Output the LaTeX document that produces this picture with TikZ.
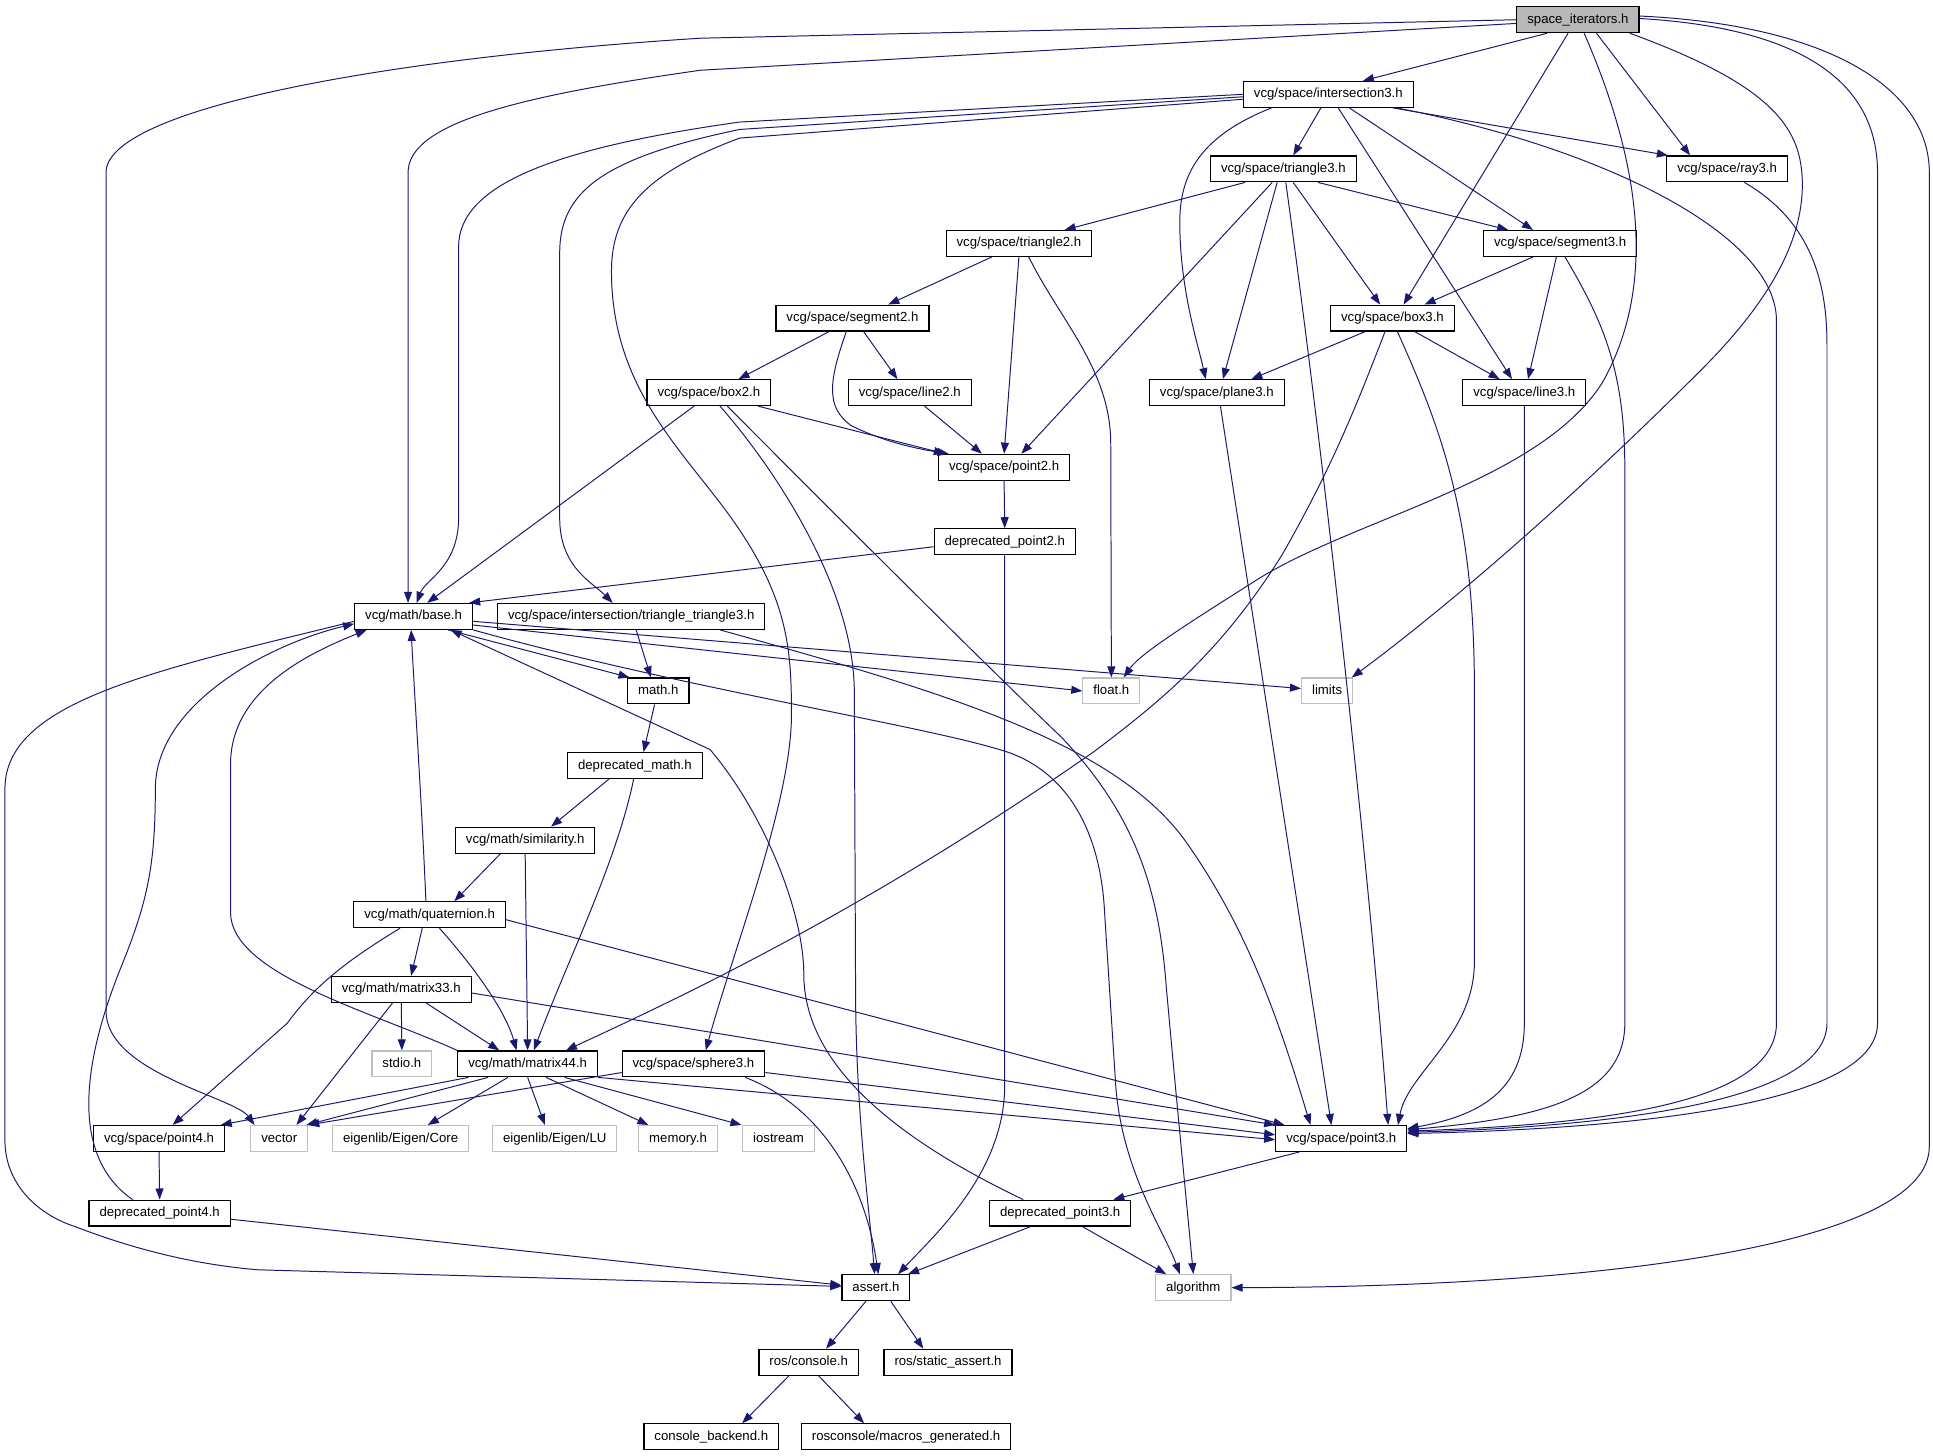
\documentclass[tikz,border=0pt]{standalone}
\usepackage{fontspec}
\setmainfont{Liberation Sans}
\usetikzlibrary{arrows.meta}
\definecolor{edgeblue}{HTML}{191970}

\begin{document}
\begin{tikzpicture}[x=1pt,y=-1pt,
  file/.style={draw=black, line width=0.9pt, fill=white, minimum height=21pt,
    inner xsep=8.5pt, inner ysep=0pt, text height=8pt, text depth=2.3pt,
    font=\fontsize{10.7}{12}\selectfont},
  sysfile/.style={file, draw=black!25},
  mainfile/.style={file, fill=black!28},
  dep/.style={draw=edgeblue, line width=0.8pt, -{Triangle[length=9pt,width=6.5pt]}}]
\def\ya{16}
\def\yb{76.5}
\def\yc{137}
\def\yd{197.5}
\def\ye{258}
\def\yf{318.5}
\def\yg{379}
\def\yh{439.5}
\def\yi{500}
\def\yj{560.5}
\def\yk{621}
\def\yl{681.5}
\def\ym{742}
\def\yn{802.5}
\def\yo{863}
\def\yp{923.5}
\def\yq{984}
\def\yr{1044.5}
\def\ys{1105}
\def\yt{1165.5}

\useasboundingbox (0,0) rectangle (1568,1181);

\node[mainfile] (si) at (1280,\ya) {space\_iterators.h};
\node[file] (isect) at (1077.5,\yb) {vcg/space/intersection3.h};
\node[file] (tri3) at (1041,\yc) {vcg/space/triangle3.h};
\node[file] (ray) at (1401,\yc) {vcg/space/ray3.h};
\node[file] (tri2) at (826.5,\yd) {vcg/space/triangle2.h};
\node[file] (seg3) at (1265.5,\yd) {vcg/space/segment3.h};
\node[file] (seg2) at (691.5,\ye) {vcg/space/segment2.h};
\node[file] (box3) at (1129.5,\ye) {vcg/space/box3.h};
\node[file] (box2) at (575,\yf) {vcg/space/box2.h};
\node[file] (line2) at (738,\yf) {vcg/space/line2.h};
\node[file] (plane) at (987,\yf) {vcg/space/plane3.h};
\node[file] (line3) at (1236.5,\yf) {vcg/space/line3.h};
\node[file] (pt2) at (814.5,\yg) {vcg/space/point2.h};
\node[file] (dpt2) at (815,\yh) {deprecated\_point2.h};
\node[file] (base) at (335.5,\yi) {vcg/math/base.h};
\node[file] (tritri) at (512,\yi) {vcg/space/intersection/triangle\_triangle3.h};
\node[file] (math) at (534,\yj) {math.h};
\node[sysfile] (float) at (901.5,\yj) {float.h};
\node[sysfile] (limits) at (1076.5,\yj) {limits};
\node[file] (dmath) at (515,\yk) {deprecated\_math.h};
\node[file] (sim) at (426,\yl) {vcg/math/similarity.h};
\node[file] (quat) at (348.5,\ym) {vcg/math/quaternion.h};
\node[file] (m33) at (325.5,\yn) {vcg/math/matrix33.h};
\node[sysfile] (stdio) at (326,\yo) {stdio.h};
\node[file] (m44) at (428,\yo) {vcg/math/matrix44.h};
\node[file] (sphere) at (562.5,\yo) {vcg/space/sphere3.h};
\node[file] (pt4) at (129,\yp) {vcg/space/point4.h};
\node[sysfile] (vec) at (226.5,\yp) {vector};
\node[sysfile] (core) at (325,\yp) {eigenlib/Eigen/Core};
\node[sysfile] (lu) at (450,\yp) {eigenlib/Eigen/LU};
\node[sysfile] (mem) at (550,\yp) {memory.h};
\node[sysfile] (ios) at (631.5,\yp) {iostream};
\node[file] (pt3) at (1088,\yp) {vcg/space/point3.h};
\node[file] (dpt4) at (129.5,\yq) {deprecated\_point4.h};
\node[file] (dpt3) at (860,\yq) {deprecated\_point3.h};
\node[file] (assert) at (710.5,\yr) {assert.h};
\node[sysfile] (alg) at (968,\yr) {algorithm};
\node[file] (rcons) at (656,\ys) {ros/console.h};
\node[file] (rsa) at (769,\ys) {ros/static\_assert.h};
\node[file] (cback) at (577,\yt) {console\_backend.h};
\node[file] (macros) at (735,\yt) {rosconsole/macros\_generated.h};

% space_iterators.h
\draw[dep] (si.west) -- (568,31) .. controls (300,48) and (86,90) .. (86,140) -- (86,820) .. controls (86,870) and (190,890) .. ([xshift=-20pt]vec.north);
\draw[dep] ([yshift=-3pt]si.west) -- (568,57) .. controls (420,78) and (331,100) .. (331,140) -- ([xshift=-4.5pt]base.north);
\draw[dep] ([xshift=-25pt]si.south) -- ([xshift=28pt]isect.north);
\draw[dep] ([xshift=-8pt]si.south) -- ([xshift=9pt]box3.north);
\draw[dep] ([xshift=5pt]si.south) .. controls (1330,130) and (1345,230) .. (1300,310) .. controls (1250,390) and (1100,420) .. (1020,470) .. controls (965,505) and (925,530) .. ([xshift=10pt]float.north);
\draw[dep] ([xshift=15pt]si.south) -- ([xshift=-30pt]ray.north);
\draw[dep] ([xshift=42pt]si.south) .. controls (1440,70) and (1462,105) .. (1462,150) .. controls (1462,200) and (1430,250) .. (1380,300) .. controls (1250,430) and (1150,510) .. ([xshift=20pt]limits.north);
\draw[dep] ([yshift=1pt]si.east) .. controls (1450,22) and (1523,60) .. (1523,140) -- (1523,830) .. controls (1523,900) and (1300,916) .. ([yshift=4pt]pt3.east);
\draw[dep] ([yshift=3pt]si.east) .. controls (1480,20) and (1565,70) .. (1565,140) -- (1565,930) .. controls (1565,1010) and (1300,1044) .. (alg.east);

% intersection3.h
\draw[dep] (isect.west) -- (600,99) .. controls (450,120) and (372,150) .. (372,200) -- (372,420) .. controls (372,460) and (345,470) .. ([xshift=2.5pt]base.north);
\draw[dep] ([yshift=-2pt]isect.west) -- (600,105) .. controls (490,128) and (454,155) .. (454,205) -- (454,420) .. controls (454,460) and (480,472) .. ([xshift=-15pt]tritri.north);
\draw[dep] ([yshift=-4pt]isect.west) -- (600,112) .. controls (525,140) and (496,170) .. (496,220) .. controls (496,320) and (560,370) .. (600,430) .. controls (640,490) and (642,530) .. (642,580) .. controls (642,650) and (595,770) .. ([xshift=10pt]sphere.north);
\draw[dep] ([xshift=-46pt]isect.south) .. controls (975,110) and (957,140) .. (957,180) .. controls (957,235) and (972,280) .. ([xshift=-9pt]plane.north);
\draw[dep] ([xshift=-6pt]isect.south) -- ([xshift=8pt]tri3.north);
\draw[dep] ([xshift=8pt]isect.south) -- ([xshift=-10pt]line3.north);
\draw[dep] ([xshift=17pt]isect.south) -- ([xshift=-22pt]seg3.north);
\draw[dep] ([xshift=52pt]isect.south) -- ([xshift=-48pt]ray.north);
\draw[dep] ([xshift=55pt]isect.south) .. controls (1300,120) and (1441,190) .. (1441,260) -- (1441,830) .. controls (1441,895) and (1300,912) .. ([yshift=6pt]pt3.east);

% triangle3.h
\draw[dep] ([xshift=-31pt]tri3.south) -- ([xshift=37pt]tri2.north);
\draw[dep] ([xshift=-9pt]tri3.south) -- ([xshift=14pt]pt2.north);
\draw[dep] ([xshift=-5pt]tri3.south) -- ([xshift=5pt]plane.north);
\draw[dep] ([xshift=2pt]tri3.south) .. controls (1075,380) and (1110,700) .. ([xshift=38pt]pt3.north);
\draw[dep] ([xshift=8pt]tri3.south) -- ([xshift=-10pt]box3.north);
\draw[dep] ([xshift=28pt]tri3.south) -- ([xshift=-42pt]seg3.north);

\draw[dep] ([xshift=14pt]ray.south) .. controls (1470,180) and (1482,230) .. (1482,280) -- (1482,830) .. controls (1482,895) and (1300,914) .. ([yshift=5pt]pt3.east);

% triangle2.h, segment3.h, segment2.h
\draw[dep] ([xshift=-22pt]tri2.south) -- ([xshift=29pt]seg2.north);
\draw[dep] (tri2.south) -- (pt2.north);
\draw[dep] ([xshift=8pt]tri2.south) .. controls (860,260) and (901,300) .. (901,360) -- (float.north);
\draw[dep] ([xshift=-22pt]seg3.south) -- ([xshift=26pt]box3.north);
\draw[dep] ([xshift=-3pt]seg3.south) -- ([xshift=3pt]line3.north);
\draw[dep] ([xshift=4pt]seg3.south) .. controls (1300,260) and (1318,300) .. (1318,380) -- (1318,830) .. controls (1318,890) and (1250,907) .. ([yshift=7pt]pt3.east);
\draw[dep] ([xshift=-19pt]seg2.south) -- ([xshift=24pt]box2.north);
\draw[dep] ([xshift=9pt]seg2.south) -- ([xshift=-10pt]line2.north);
\draw[dep] ([xshift=-5pt]seg2.south) .. controls (672,310) and (670,330) .. (690,345) .. controls (720,360) and (750,365) .. ([xshift=-45pt]pt2.north);

% box3.h, box2.h
\draw[dep] ([xshift=-22pt]box3.south) -- ([xshift=28pt]plane.north);
\draw[dep] ([xshift=18pt]box3.south) -- ([xshift=-20pt]line3.north);
\draw[dep] ([xshift=4pt]box3.south) .. controls (1170,350) and (1196,420) .. (1196,560) -- (1196,780) .. controls (1196,840) and (1142,870) .. ([xshift=46pt]pt3.north);
\draw[dep] ([xshift=-6pt]box3.south) .. controls (1100,330) and (1080,380) .. (1040,450) .. controls (990,530) and (940,570) .. (887,610) .. controls (700,740) and (550,810) .. ([xshift=31pt]m44.north);
\draw[dep] ([xshift=40pt]box2.south) -- ([xshift=-48pt]pt2.north);
\draw[dep] ([xshift=-12pt]box2.south) -- ([xshift=11pt]base.north);
\draw[dep] ([xshift=9pt]box2.south) .. controls (620,370) and (692,470) .. (693,560) -- (694,800) .. controls (694,900) and (705,980) .. ([xshift=-1pt]assert.north);
\draw[dep] ([xshift=15pt]box2.south) .. controls (660,400) and (800,540) .. (861,598) .. controls (920,660) and (940,720) .. (946,800) .. controls (955,900) and (962,970) .. (alg.north);

\draw[dep] ([xshift=12pt]line2.south) -- ([xshift=-18pt]pt2.north);
\draw[dep] ([xshift=3pt]plane.south) -- ([xshift=-8pt]pt3.north);
\draw[dep] (line3.south) -- (1236.5,830) .. controls (1236.5,885) and (1200,905) .. ([yshift=8pt]pt3.east);
\draw[dep] (pt2.south) -- (dpt2.north);
\draw[dep] ([yshift=-4pt]dpt2.west) -- ([xshift=45pt]base.north);
\draw[dep] (dpt2.south) -- (815,880) .. controls (815,950) and (760,1000) .. ([xshift=18pt]assert.north);

% base.h
\draw[dep] ([xshift=28pt]base.south) -- ([xshift=2pt]math.north west);
\draw[dep] ([yshift=-7pt]base.east) -- (float.west);
\draw[dep] ([yshift=-4pt]base.east) -- ([yshift=2pt]limits.west);
\draw[dep] (base.south east) .. controls (560,560) and (760,590) .. (820,611) .. controls (870,630) and (893,680) .. (896,740) -- (905,880) .. controls (910,950) and (945,1000) .. ([xshift=-11pt]alg.north);
\draw[dep] ([yshift=-4pt]base.west) .. controls (120,545) and (4,570) .. (4,640) -- (4,925) .. controls (4,960) and (30,985) .. (61,995) .. controls (100,1010) and (150,1025) .. (209,1030) -- ([yshift=1pt]assert.west);

\draw[dep] ([xshift=4pt]tritri.south) -- ([xshift=-6pt]math.north);
\draw[dep] ([xshift=72pt]tritri.south) .. controls (760,560) and (900,600) .. (960,680) .. controls (1010,750) and (1035,820) .. ([xshift=-25pt]pt3.north);
\draw[dep] ([xshift=-3pt]math.south) -- ([xshift=7pt]dmath.north);
\draw[dep] ([xshift=-21pt]dmath.south) -- ([xshift=21pt]sim.north);
\draw[dep] ([xshift=-1pt]dmath.south) .. controls (500,700) and (460,780) .. ([xshift=5pt]m44.north);
\draw[dep] ([xshift=-20pt]sim.south) -- ([xshift=20pt]quat.north);
\draw[dep] (sim.south) -- (m44.north);

% quaternion.h, matrix33.h
\draw[dep] ([xshift=-3pt]quat.north) .. controls (342,650) and (336,560) .. ([xshift=-2pt]base.south);
\draw[dep] ([xshift=-6pt]quat.south) -- ([xshift=8pt]m33.north);
\draw[dep] ([xshift=8pt]quat.south) .. controls (385,785) and (410,820) .. ([xshift=-9pt]m44.north);
\draw[dep] ([xshift=-24pt]quat.south) .. controls (280,780) and (255,800) .. (233,830) -- ([xshift=11pt]pt4.north);
\draw[dep] ([yshift=-4pt]quat.east) -- ([xshift=-46pt]pt3.north);
\draw[dep] (m33.south) -- (stdio.north);
\draw[dep] ([xshift=20pt]m33.south) -- ([xshift=-23pt]m44.north);
\draw[dep] ([xshift=-7pt]m33.south) -- ([xshift=14pt]vec.north);
\draw[dep] ([yshift=-3pt]m33.east) -- (pt3.north west);

% matrix44.h
\draw[dep] ([xshift=-48pt]m44.south) -- ([xshift=50pt]pt4.north);
\draw[dep] ([xshift=-32pt]m44.south) -- ([xshift=22pt]vec.north);
\draw[dep] ([xshift=-16pt]m44.south) -- ([xshift=22pt]core.north);
\draw[dep] (m44.south) -- ([xshift=-8pt]lu.north);
\draw[dep] ([xshift=15pt]m44.south) -- ([xshift=-24pt]mem.north);
\draw[dep] ([xshift=30pt]m44.south) -- ([xshift=-30pt]ios.north);
\draw[dep] (m44.south east) -- ([yshift=-1pt]pt3.west);
\draw[dep] (m44.north west) .. controls (300,820) and (187,790) .. (187,740) -- (187,620) .. controls (187,560) and (250,530) .. ([xshift=-38pt]base.south);

% sphere3.h
\draw[dep] ([yshift=-7pt]sphere.west) -- (vec.north east);
\draw[dep] ([yshift=-7pt]sphere.east) -- ([yshift=3pt]pt3.west);
\draw[dep] ([xshift=42pt]sphere.south) .. controls (660,895) and (700,950) .. ([xshift=2pt]assert.north);

% point4.h, point3.h and the rest
\draw[dep] (pt4.south) -- (dpt4.north);
\draw[dep] ([xshift=-22pt]dpt4.north) .. controls (60,940) and (63,870) .. (100,780) .. controls (120,730) and (126,700) .. (126,640) .. controls (126,570) and (220,522) .. ([yshift=-6pt]base.west);
\draw[dep] ([yshift=-5pt]dpt4.east) -- ([yshift=2pt]assert.west);
\draw[dep] ([xshift=-34pt]pt3.south) -- ([xshift=43pt]dpt3.north);
\draw[dep] ([xshift=-30pt]dpt3.north) .. controls (740,930) and (652,870) .. (652,790) .. controls (652,740) and (620,660) .. (576,608) -- ([xshift=30pt]base.south);
\draw[dep] ([xshift=-24pt]dpt3.south) -- ([xshift=26pt]assert.north);
\draw[dep] ([xshift=18pt]dpt3.south) -- ([xshift=-22pt]alg.north);
\draw[dep] ([xshift=-8pt]assert.south) -- ([xshift=14pt]rcons.north);
\draw[dep] ([xshift=12pt]assert.south) -- ([xshift=-20pt]rsa.north);
\draw[dep] ([xshift=-16pt]rcons.south) -- ([xshift=25pt]cback.north);
\draw[dep] ([xshift=8pt]rcons.south) -- ([xshift=-34pt]macros.north);
\end{tikzpicture}
\end{document}
